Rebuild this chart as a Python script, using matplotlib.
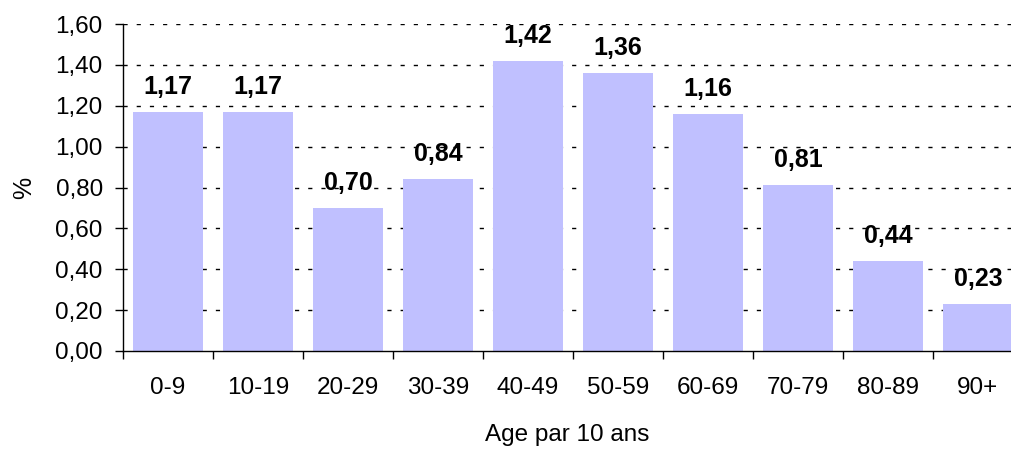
import matplotlib
matplotlib.use("Agg")
import matplotlib.pyplot as plt
import numpy as np

# data
ages = ["0-9", "10-19", "20-29", "30-39", "40-49", "50-59", "60-69", "70-79", "80-89", "90+"]
values = [1.17, 1.17, 0.70, 0.84, 1.42, 1.36, 1.16, 0.81, 0.44, 0.23]
yticks = [0.0, 0.2, 0.4, 0.6, 0.8, 1.0, 1.2, 1.4, 1.6]

plt.rcParams["font.family"] = ["Liberation Sans", "DejaVu Sans"]

fig = plt.figure(figsize=(10.11, 4.49), dpi=100)
# plot area runs slightly past the right edge, like the original
ax = fig.add_axes([123 / 1011, 98 / 449, 900 / 1011, 327 / 449])

x = np.arange(len(ages))
bars = ax.bar(x, values, width=0.78, color="#C0C0FF", zorder=2)

for xi, v in zip(x, values):
    ax.annotate(f"{v:.2f}".replace(".", ","), (xi, v), xytext=(0, 13),
                textcoords="offset points", ha="center", va="baseline",
                fontsize=18, fontweight="bold", zorder=3)

ax.set_xlim(-0.5, len(ages) - 0.5)
ax.set_ylim(0, 1.6)

ax.set_yticks(yticks)
ax.set_yticklabels([f"{t:.2f}".replace(".", ",") for t in yticks], fontsize=17.5)
ax.tick_params(axis="y", direction="out", length=6, width=1, pad=8.5)

# ticks between categories, labels at the centres
ax.set_xticks(np.arange(len(ages) + 1) - 0.5)
ax.set_xticklabels([])
ax.set_xticks(x, minor=True)
ax.set_xticklabels(ages, minor=True, fontsize=17.5)
ax.tick_params(axis="x", which="major", direction="out", length=6, width=1)
ax.tick_params(axis="x", which="minor", length=0, pad=19)

for t in yticks[1:]:
    ax.axhline(t, color="black", linewidth=1, dashes=(3, 6.5), zorder=1)

ax.spines["top"].set_visible(False)
ax.spines["right"].set_visible(False)
ax.spines["left"].set_linewidth(1)
ax.spines["bottom"].set_linewidth(1)

ax.set_xlabel("Age par 10 ans", fontsize=17.5)
ax.xaxis.set_label_coords(0.493, -0.222)
ax.set_ylabel("%", fontsize=18)
ax.yaxis.set_label_coords(-0.097, 0.5)

fig.savefig("out.png", dpi=100)
